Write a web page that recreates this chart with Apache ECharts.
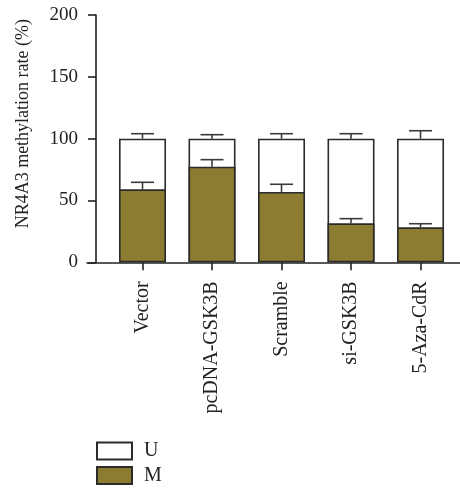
<!DOCTYPE html>
<html>
<head>
<meta charset="utf-8">
<script src="https://cdn.jsdelivr.net/npm/echarts@6/dist/echarts.min.js"></script>
<style>
  html, body { margin: 0; padding: 0; background: #fff; }
  #chart { width: 460px; height: 489px; }
</style>
</head>
<body>
<div id="chart"></div>
<script>
// Groups along the x axis
const categories = ['Vector', 'pcDNA-GSK3B', 'Scramble', 'si-GSK3B', '5-Aza-CdR'];
// Methylated share (%) and its upper error
const methylated = [59, 77.3, 56.9, 31.5, 28.3];
const methylatedErr = [5.7, 5.7, 6.2, 3.8, 2.9];
// Unmethylated share (%) stacked on top, and its upper error
const unmethylated = [41, 22.7, 43.1, 68.5, 71.7];
const unmethylatedErr = [4, 3.2, 4, 4, 6.4];
// Y axis ticks
const yTicks = [0, 50, 100, 150, 200];

const FONT = 'Liberation Serif';
const INK = '#222';
const OLIVE = '#8b7c31';

const idx = categories.map((_, i) => i);
// U sits on top of M: draw the full column (M + U) in white, then M over it
const totals = idx.map(i => methylated[i] + unmethylated[i]);
const mData = idx.map(i => [i, methylated[i]]);
const uData = idx.map(i => [i, totals[i]]);
// error bars: [x, top of segment, error]
const mErrData = idx.map(i => [i, methylated[i], methylatedErr[i]]);
const uErrData = idx.map(i => [i, totals[i], unmethylatedErr[i]]);

function errorBar(params, api) {
  const x = api.value(0);
  const top = api.value(1);
  const err = api.value(2);
  const p0 = api.coord([x, top]);
  const p1 = api.coord([x, top + err]);
  const half = 11.5;
  const style = { stroke: '#3a3a3a', lineWidth: 1.6, fill: null };
  return {
    type: 'group',
    children: [
      { type: 'line', shape: { x1: p0[0], y1: p0[1], x2: p1[0], y2: p1[1] }, style },
      { type: 'line', shape: { x1: p1[0] - half, y1: p1[1], x2: p1[0] + half, y2: p1[1] }, style }
    ]
  };
}

const chart = echarts.init(document.getElementById('chart'), null, { renderer: 'canvas' });

chart.setOption({
  animation: false,
  grid: { left: 87, right: 0, top: 15, height: 247.3 },
  legend: {
    data: ['U', 'M'],
    orient: 'vertical',
    left: 96,
    top: 441,
    padding: 0,
    itemWidth: 35,
    itemHeight: 17,
    itemGap: 4.5,
    icon: 'rect',
    textStyle: { fontFamily: FONT, fontSize: 20, color: INK, padding: [0, 0, 0, 7] }
  },
  xAxis: {
    type: 'value',
    min: -0.7986,
    max: 4.568,
    splitLine: { show: false },
    axisLine: { show: true, onZero: false, lineStyle: { color: INK, width: 1.6 } },
    axisTick: {
      show: true, length: 8, customValues: idx,
      lineStyle: { color: INK, width: 1.6 }
    },
    axisLabel: {
      customValues: idx,
      rotate: 90,
      margin: 19,
      fontFamily: FONT,
      fontSize: 20,
      color: INK,
      formatter: v => categories[Math.round(v)]
    }
  },
  yAxis: {
    type: 'value',
    min: 0,
    max: 200,
    interval: 50,
    offset: -9,
    name: 'NR4A3 methylation rate (%)',
    nameLocation: 'middle',
    nameGap: 64,
    nameTextStyle: { fontFamily: FONT, fontSize: 18, color: INK, padding: [0, 0, 0, 30] },
    splitLine: { show: false },
    axisLine: { show: true, onZero: false, lineStyle: { color: INK, width: 1.6 } },
    axisTick: { show: true, length: 8, lineStyle: { color: INK, width: 1.6 } },
    axisLabel: {
      margin: 18,
      fontFamily: FONT,
      fontSize: 19,
      color: INK,
      customValues: yTicks
    }
  },
  series: [
    {
      name: 'U',
      type: 'bar',
      barWidth: 47,
      barGap: '-100%',
      data: uData,
      z: 2,
      itemStyle: { color: '#ffffff', borderColor: '#2b2b2b', borderWidth: 1.6 }
    },
    {
      name: 'M',
      type: 'bar',
      barWidth: 47,
      barGap: '-100%',
      data: mData,
      z: 2,
      itemStyle: { color: OLIVE, borderColor: '#2b2b2b', borderWidth: 1.6 }
    },
    {
      name: 'M error',
      type: 'custom',
      renderItem: errorBar,
      encode: { x: 0, y: 1 },
      data: mErrData,
      z: 3
    },
    {
      name: 'U error',
      type: 'custom',
      renderItem: errorBar,
      encode: { x: 0, y: 1 },
      data: uErrData,
      z: 3
    }
  ]
});
</script>
</body>
</html>
